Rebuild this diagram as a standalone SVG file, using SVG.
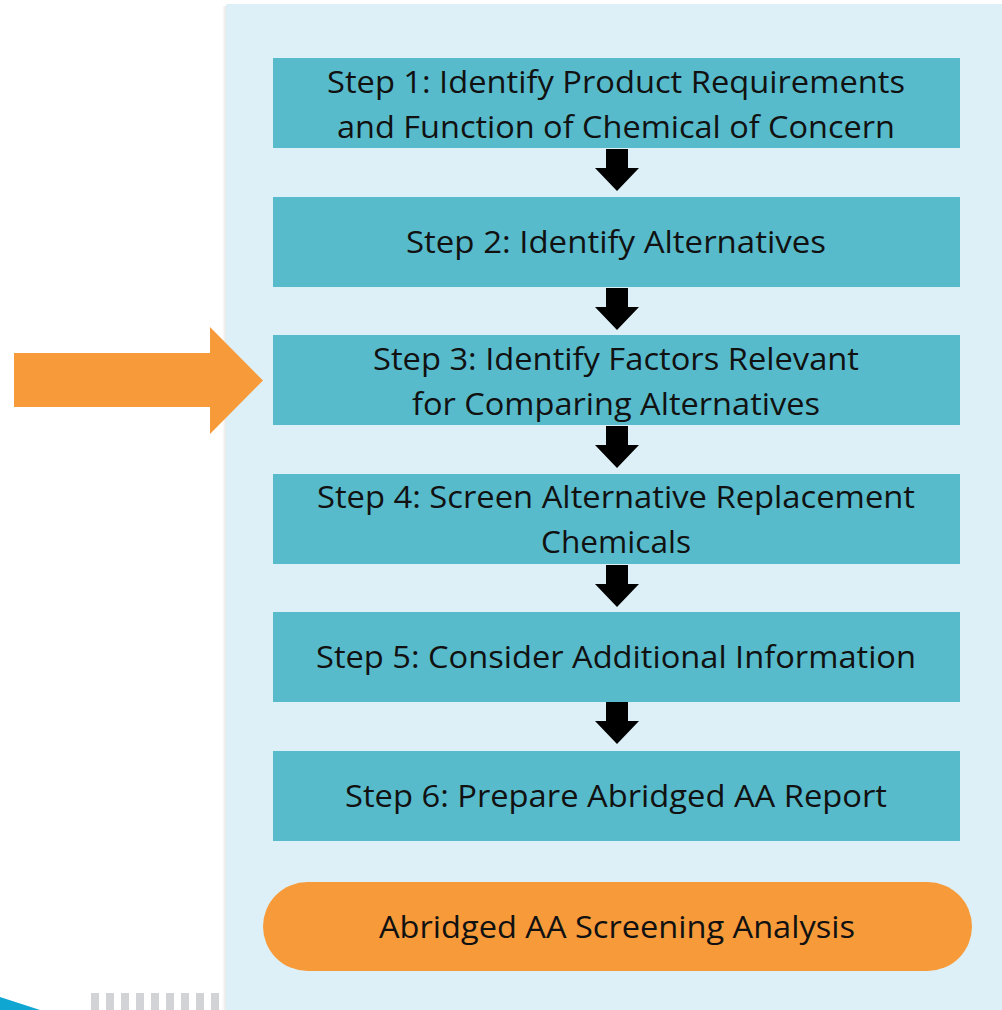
<svg xmlns="http://www.w3.org/2000/svg" width="1002" height="1010" viewBox="0 0 1002 1010">
<defs>
<style>
.box{fill:#57bbcb}
.txt{font-family:"Open Sans","Liberation Sans",sans-serif;font-size:31px;fill:#111;text-anchor:middle}
.dn{fill:#000}
.dash{fill:#d2d3d6}
</style>
<linearGradient id="shadow" x1="0" y1="0" x2="1" y2="0">
<stop offset="0" stop-color="#ffffff"/>
<stop offset="1" stop-color="#e2e2e4"/>
</linearGradient>
<polygon id="darrow" points="606,0 628,0 628,19 639,19 617,42 595,19 606,19"/>
</defs>
<rect x="0" y="0" width="1002" height="1010" fill="#ffffff"/>
<g id="background">
<rect x="222" y="6" width="5" height="1004" fill="url(#shadow)"/>
<rect x="226" y="4" width="776" height="1006" fill="#ddf0f8"/>
<polygon points="0,997 40,1010 0,1010" fill="#10a6d2"/>
<g class="dash">
<rect x="91" y="993" width="8" height="17"/>
<rect x="106" y="993" width="8" height="17"/>
<rect x="121" y="993" width="8" height="17"/>
<rect x="136" y="993" width="8" height="17"/>
<rect x="151" y="993" width="8" height="17"/>
<rect x="166" y="993" width="8" height="17"/>
<rect x="181" y="993" width="8" height="17"/>
<rect x="196" y="993" width="8" height="17"/>
<rect x="211" y="993" width="8" height="17"/>
</g>
</g>
<g id="step1"><rect class="box" x="273" y="58" width="687" height="90"/>
<text class="txt" x="616" y="93" textLength="578" lengthAdjust="spacingAndGlyphs">Step 1: Identify Product Requirements</text>
<text class="txt" x="616" y="138" textLength="558" lengthAdjust="spacingAndGlyphs">and Function of Chemical of Concern</text></g>
<g id="step2"><rect class="box" x="273" y="197" width="687" height="90"/>
<text class="txt" x="616" y="253" textLength="420" lengthAdjust="spacingAndGlyphs">Step 2: Identify Alternatives</text></g>
<g id="step3"><rect class="box" x="273" y="335" width="687" height="90"/>
<text class="txt" x="616" y="370" textLength="486" lengthAdjust="spacingAndGlyphs">Step 3: Identify Factors Relevant</text>
<text class="txt" x="616" y="415" textLength="408" lengthAdjust="spacingAndGlyphs">for Comparing Alternatives</text></g>
<g id="step4"><rect class="box" x="273" y="474" width="687" height="90"/>
<text class="txt" x="616" y="508" textLength="598" lengthAdjust="spacingAndGlyphs">Step 4: Screen Alternative Replacement</text>
<text class="txt" x="616" y="553" textLength="150" lengthAdjust="spacingAndGlyphs">Chemicals</text></g>
<g id="step5"><rect class="box" x="273" y="612" width="687" height="90"/>
<text class="txt" x="616" y="668" textLength="600" lengthAdjust="spacingAndGlyphs">Step 5: Consider Additional Information</text></g>
<g id="step6"><rect class="box" x="273" y="751" width="687" height="90"/>
<text class="txt" x="616" y="807" textLength="542" lengthAdjust="spacingAndGlyphs">Step 6: Prepare Abridged AA Report</text></g>
<g id="screening"><rect x="263" y="882" width="709" height="89" rx="44.5" fill="#f79a3a"/>
<text class="txt" x="617" y="938" textLength="476" lengthAdjust="spacingAndGlyphs">Abridged AA Screening Analysis</text></g>
<g id="pointer"><polygon points="14,353 210,353 210,327 263,380.5 210,434 210,407 14,407" fill="#f79a3a"/></g>
<g id="connectors" class="dn">
<use href="#darrow" y="149"/>
<use href="#darrow" y="288"/>
<use href="#darrow" y="426"/>
<use href="#darrow" y="565"/>
<use href="#darrow" y="702"/>
</g>
</svg>
